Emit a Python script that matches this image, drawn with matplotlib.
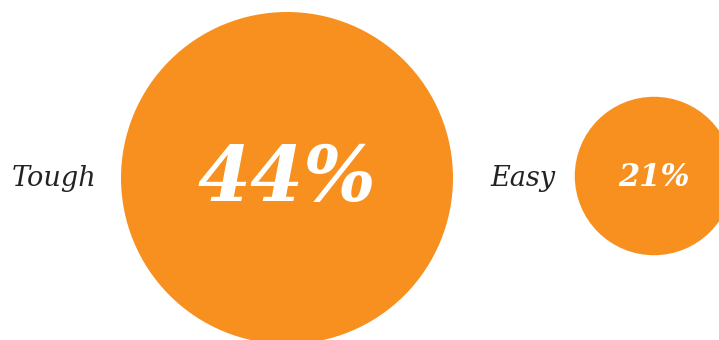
import matplotlib
matplotlib.use("Agg")
import matplotlib.pyplot as plt
from matplotlib.patches import Circle

# datos: porcentaje por categoria
categorias = ["Tough", "Easy"]
valores = [44, 21]

naranja = "#F7901F"
px_por_pct = 166 / 44  # radio proporcional al valor

fig = plt.figure(figsize=(7.19, 3.40), dpi=100)
ax = fig.add_axes([0, 0, 1, 1])
ax.set_xlim(0, 719)
ax.set_ylim(340, 0)
ax.set_aspect("equal")
ax.axis("off")

# posiciones de los circulos y etiquetas
centros_x = [287, 654]
centros_y = [178, 176]
etiquetas_x = [12, 490]
tam_valor = [55, 22]

for cat, val, cx, cy, lx, fs in zip(categorias, valores, centros_x, centros_y,
                                    etiquetas_x, tam_valor):
    r = val * px_por_pct
    ax.add_patch(Circle((cx, cy), r, color=naranja, lw=0))
    ax.text(lx, 178, cat, ha="left", va="center", fontsize=19.5,
            family="DejaVu Serif", style="italic", color="#222222")
    ax.text(cx, cy + 2, f"{val}%", ha="center", va="center", fontsize=fs,
            family="DejaVu Serif", style="italic", weight="bold", color="white")

fig.savefig("out.png", dpi=100)
